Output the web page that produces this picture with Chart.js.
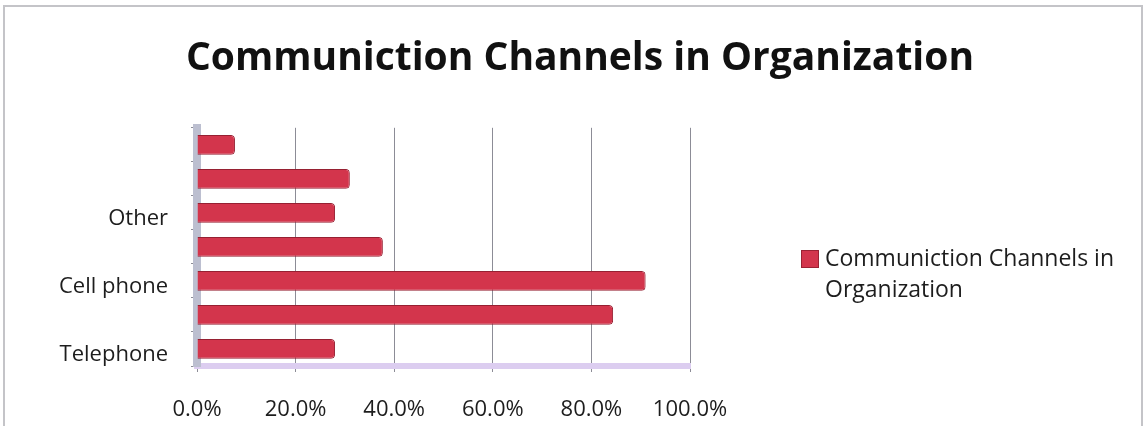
<!DOCTYPE html>
<html>
<head>
<meta charset="utf-8">
<script src="https://cdn.jsdelivr.net/npm/chart.js@4"></script>
<style>
  html, body { margin: 0; padding: 0; background: #fff; }
  #wrap { position: relative; width: 1147px; height: 426px; overflow: hidden; }
  #frame { position: absolute; left: 3px; top: 5px; width: 1136px; height: 440px;
           border: 2px solid #c4c4c8; pointer-events: none; }
  #legend { position: absolute; left: 801px; top: 242px; font-family: "Open Sans", sans-serif;
            font-size: 23px; line-height: 31px; color: #1d1d1d; }
  #legend .box { position: absolute; left: 0; top: 8px; width: 16px; height: 16px;
                 background: #d3354c; border: 1px solid #9a2233; }
  #legend .txt { margin-left: 24px; }
</style>
</head>
<body>
<div id="wrap">
  <canvas id="chart" width="1147" height="426"></canvas>
  <div id="frame"></div>
  <div id="legend"><span class="box"></span><div class="txt">Communiction Channels in<br>Organization</div></div>
</div>
<script>
const categories = ['Telephone', '', 'Cell phone', '', 'Other', '', ''];
const values = [28, 84.4, 91, 37.7, 28, 31, 7.7];
const xTicks = [0, 20, 40, 60, 80, 100];

const ctx = document.getElementById('chart').getContext('2d');

const chart = new Chart(ctx, {
  type: 'bar',
  data: {
    labels: categories,
    datasets: [{
      label: 'Communiction Channels in Organization',
      data: values,
      backgroundColor: '#d3354c',
      borderColor: '#962032',
      borderWidth: 1,
      borderRadius: { topRight: 4, bottomRight: 4 },
      borderSkipped: 'left',
      barPercentage: 0.58,
      categoryPercentage: 1
    }]
  },
  options: {
    indexAxis: 'y',
    responsive: false,
    animation: false,
    layout: { padding: { left: 13, right: 0, top: 0, bottom: 0 } },
    plugins: {
      legend: { display: false },
      tooltip: { enabled: false },
      title: {
        display: true,
        text: 'Communiction Channels in Organization',
        color: '#111',
        font: { family: 'Open Sans', size: 39, weight: 'bold' },
        padding: { top: 35, bottom: 46 }
      }
    },
    scales: {
      x: {
        min: 0,
        max: 100,
        afterBuildTicks: (scale) => { scale.ticks = xTicks.map(v => ({ value: v })); },
        afterFit: (scale) => { scale.height = 60; },
        ticks: {
          color: '#1d1d1d',
          padding: 25,
          font: { family: 'Open Sans', size: 22 },
          callback: (v) => v.toFixed(1) + '%'
        },
        grid: { color: '#8c8c96', lineWidth: 1, tickLength: 6 },
        border: { color: '#dccdf0', width: 6 }
      },
      y: {
        reverse: true,
        afterFit: (scale) => { scale.width = 184; },
        ticks: {
          color: '#1d1d1d',
          padding: 23,
          labelOffset: 6,
          autoSkip: false,
          font: { family: 'Open Sans', size: 22 }
        },
        grid: { drawOnChartArea: false, color: '#8c8c96', tickLength: 6, offset: true },
        border: { color: '#bcbfd0', width: 8 }
      },
      // empty box on the right that keeps room for the legend
      side: {
        type: 'linear',
        position: 'right',
        afterFit: (scale) => { scale.width = 457; },
        ticks: { display: false },
        grid: { display: false },
        border: { display: false }
      }
    }
  }
});
</script>
</body>
</html>
